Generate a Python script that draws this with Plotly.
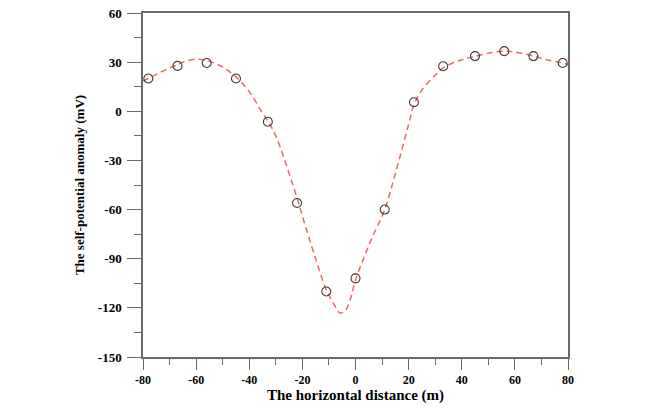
import plotly.graph_objects as go

# Observed data (circles)
obs_x = [-78, -67, -56, -45, -33, -22, -11, 0, 11, 22, 33, 45, 56, 67, 78]
obs_y = [20, 27.7, 29.5, 20, -6.4, -56, -110, -102, -60, 5.5, 27.5, 33.7, 36.7, 33.7, 29.5]

# Model curve (dashed)
fit_x = [-80, -78, -75, -70, -67, -65, -60, -56, -50, -45, -40, -35, -33, -30, -25, -22, -20,
         -15, -11, -8, -6, -4, -2, 0, 3, 6, 11, 15, 20, 22, 25, 30, 33, 40, 45, 50, 56, 60,
         67, 72, 78, 80]
fit_y = [18.5, 20, 22.5, 26.5, 28.5, 30, 31.8, 31, 27, 21, 12, -1, -6, -15, -38, -53, -64,
         -90, -109, -118, -123, -122, -115, -103, -90, -78, -60, -38, -8, 4, 13, 22, 26.5,
         31.5, 33.5, 35.5, 36.7, 36.2, 33.7, 31.5, 29.5, 28.5]

x_ticks = [-80, -60, -40, -20, 0, 20, 40, 60, 80]
y_ticks = [-150, -120, -90, -60, -30, 0, 30, 60]
x_title = "The horizontal distance (m)"
y_title = "The self-potential anomaly (mV)"

font_family = "Liberation Serif"
axis_col = "#6a6a6a"

fig = go.Figure()
fig.add_trace(go.Scatter(
    x=fit_x, y=fit_y, mode="lines", line_shape="spline",
    line=dict(color="#f2665e", width=1.5, dash="6px,4px"),
    showlegend=False, hoverinfo="skip"))
fig.add_trace(go.Scatter(
    x=obs_x, y=obs_y, mode="markers",
    marker=dict(symbol="circle-open", size=9, color="#3c3c3c", line=dict(width=1.1)),
    showlegend=False))

fig.update_layout(
    width=651, height=409,
    margin=dict(l=143, r=83, t=6, b=52),
    plot_bgcolor="white", paper_bgcolor="white",
    font=dict(family=font_family, color="black"),
)
fig.add_annotation(
    text=x_title, xref="paper", yref="paper", x=0.5, y=-0.111,
    xanchor="center", yanchor="middle", showarrow=False,
    font=dict(family=font_family, size=15, color="black", weight="bold"))
fig.update_xaxes(
    range=[-80, 80], tickvals=x_ticks, ticktext=[str(v) for v in x_ticks],
    showgrid=False, zeroline=False,
    showline=True, linecolor=axis_col, linewidth=1.5, mirror=True,
    ticks="outside", ticklen=11, tickwidth=1.3, tickcolor=axis_col,
    minor=dict(dtick=10, tick0=0, ticks="outside", ticklen=6, tickwidth=1.3, tickcolor=axis_col, showgrid=False),
    tickfont=dict(family=font_family, size=12, color="black", weight="bold"),
    ticklabelstandoff=0,
)
fig.update_yaxes(
    range=[-150, 60], tickvals=y_ticks, ticktext=[str(v) for v in y_ticks],
    showgrid=False, zeroline=False,
    showline=True, linecolor=axis_col, linewidth=1.5, mirror=True,
    ticks="outside", ticklen=14, tickwidth=1.3, tickcolor=axis_col,
    minor=dict(dtick=15, tick0=0, ticks="outside", ticklen=7, tickwidth=1.3, tickcolor=axis_col, showgrid=False),
    tickfont=dict(family=font_family, size=13, color="black", weight="bold"),
    ticklabelstandoff=3,
    title=dict(text=y_title, standoff=10,
               font=dict(family=font_family, size=13, color="black", weight="bold")),
)

fig.write_html("out.html")
